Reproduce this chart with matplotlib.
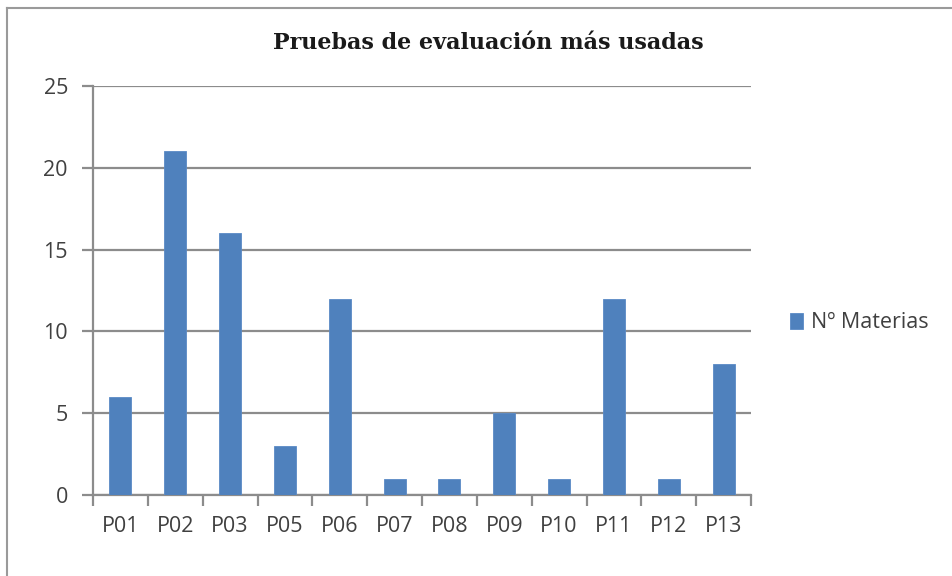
import matplotlib
matplotlib.use("Agg")
import matplotlib.pyplot as plt
import numpy as np

categories = ["P01", "P02", "P03", "P05", "P06", "P07", "P08", "P09", "P10", "P11", "P12", "P13"]
values = [6, 21, 16, 3, 12, 1, 1, 5, 1, 12, 1, 8]
series_name = "Nº Materias"
title = "Pruebas de evaluación más usadas"
yticks = [0, 5, 10, 15, 20, 25]

bar_color = "#4F81BD"
grid_color = "#8C8C8C"
text_color = "#404040"

fig = plt.figure(figsize=(9.52, 5.76), dpi=100)
fig.patch.set_facecolor("white")

# outer chart frame (only left and top visible in reference)
fig.add_artist(plt.Line2D([7/952, 7/952], [0, 1 - 8/576], transform=fig.transFigure,
                          color="#9A9A9A", lw=1.5))
fig.add_artist(plt.Line2D([7/952, 1], [1 - 8/576, 1 - 8/576], transform=fig.transFigure,
                          color="#9A9A9A", lw=1.5))

ax = fig.add_axes([93/952, 1 - 495/576, (751 - 93)/952, (495 - 86)/576])
x = np.arange(len(categories))
ax.bar(x, values, width=0.4, color=bar_color, edgecolor="#5A8AC6", linewidth=0.6,
       label=series_name, zorder=3)

ax.set_xlim(-0.5, len(categories) - 0.5)
ax.set_ylim(0, 25)
ax.set_yticks(yticks)
ax.yaxis.grid(True, color=grid_color, linewidth=1.6, zorder=0)
ax.set_axisbelow(True)

for s in ["top", "right"]:
    ax.spines[s].set_visible(False)
for s in ["left", "bottom"]:
    ax.spines[s].set_color(grid_color)
    ax.spines[s].set_linewidth(1.6)

ax.set_xticks(np.arange(len(categories) + 1) - 0.5, minor=False)
ax.set_xticklabels([])
ax.set_xticks(x, minor=True)
ax.set_xticklabels(categories, minor=True)
ax.tick_params(axis="x", which="major", length=8, width=1.6, color=grid_color, direction="out")
ax.tick_params(axis="x", which="minor", length=0, pad=15, labelsize=15.5, labelcolor=text_color)
ax.tick_params(axis="y", length=8, width=1.6, color=grid_color, direction="out",
               labelsize=15.5, labelcolor=text_color, pad=10)
for lbl in ax.get_xticklabels(minor=True) + ax.get_yticklabels():
    lbl.set_fontfamily("Open Sans")

fig.text(488/952, 1 - 43/576, title, ha="center", va="center",
         fontsize=16, fontweight="bold", family="DejaVu Serif", color="#1A1A1A")

leg = ax.legend(loc="center left", bbox_to_anchor=(781/952, 1 - 323/576),
                bbox_transform=fig.transFigure, frameon=False,
                prop={"family": "Open Sans", "size": 15.5}, handlelength=0.6, handleheight=0.8,
                handletextpad=0.4, borderaxespad=0)
for t in leg.get_texts():
    t.set_color(text_color)

fig.savefig("out.png", dpi=100, facecolor="white")
